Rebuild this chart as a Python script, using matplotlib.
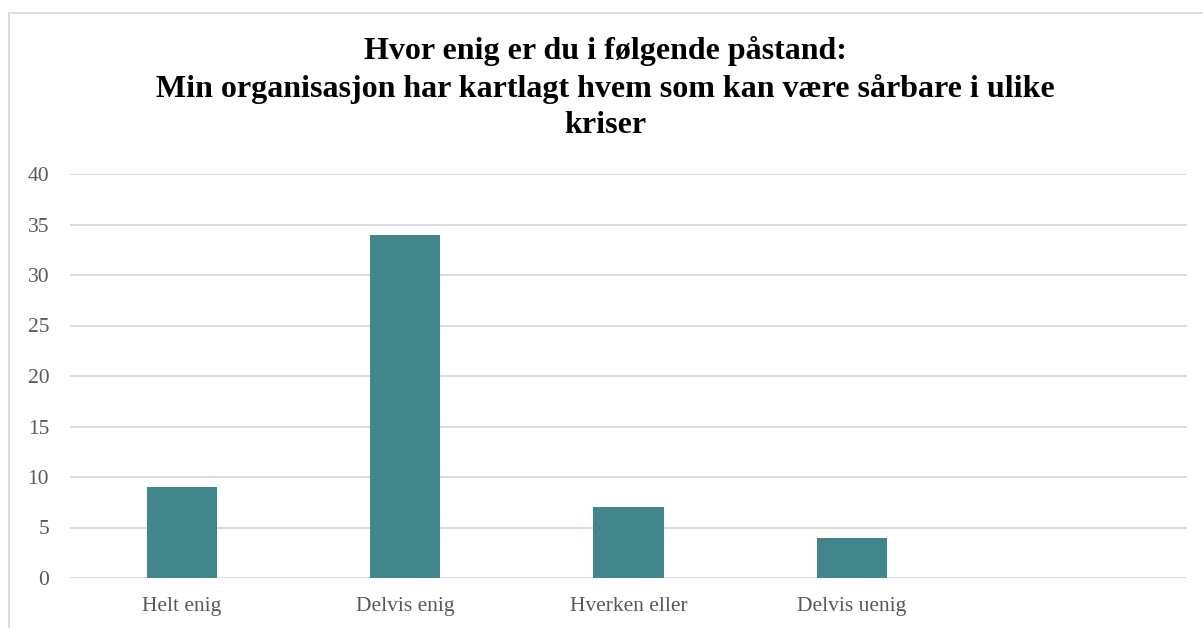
import matplotlib
matplotlib.use("Agg")
import matplotlib.pyplot as plt
from matplotlib.lines import Line2D

categories = ["Helt enig", "Delvis enig", "Hverken eller", "Delvis uenig", ""]
values = [9, 34, 7, 4, 0]
yticks = [0, 5, 10, 15, 20, 25, 30, 35, 40]
title = ("Hvor enig er du i følgende påstand:\n"
         "Min organisasjon har kartlagt hvem som kan være sårbare i ulike\n"
         "kriser")

W, H = 1203, 628
fig = plt.figure(figsize=(W / 100, H / 100), dpi=100)
fig.patch.set_facecolor("white")

serif = ["Liberation Serif", "DejaVu Serif"]

ax = fig.add_axes([70 / W, 1 - 578 / H, (1187 - 70) / W, (578 - 174) / H])
x = list(range(len(categories)))
ax.bar(x, values, width=0.315, color="#40868A", zorder=3)
ax.set_xlim(-0.5, len(categories) - 0.5)
ax.set_ylim(0, 40)
ax.set_yticks(yticks)
ax.set_xticks(x)
ax.set_xticklabels(categories)
for s in ax.spines.values():
    s.set_visible(False)
ax.grid(axis="y", color="#D9D9D9", linewidth=1.3, zorder=0)
ax.set_axisbelow(True)
ax.tick_params(axis="both", length=0, colors="#595959", labelsize=15.5)
ax.tick_params(axis="y", pad=15)
ax.tick_params(axis="x", pad=14)
for lab in ax.get_xticklabels() + ax.get_yticklabels():
    lab.set_family(serif)

fig.text(0.503, 1 - 88 / H, title, ha="center", va="center", multialignment="center",
         fontsize=23, fontweight="bold", family=serif, color="black", linespacing=1.35)

fig.add_artist(Line2D([9 / W, 9 / W], [0, 1 - 13 / H], transform=fig.transFigure,
                      color="#D9D9D9", linewidth=1.3))
fig.add_artist(Line2D([9 / W, 1], [1 - 13 / H, 1 - 13 / H], transform=fig.transFigure,
                      color="#D9D9D9", linewidth=1.3))

fig.savefig("out.png", dpi=100, facecolor="white")
